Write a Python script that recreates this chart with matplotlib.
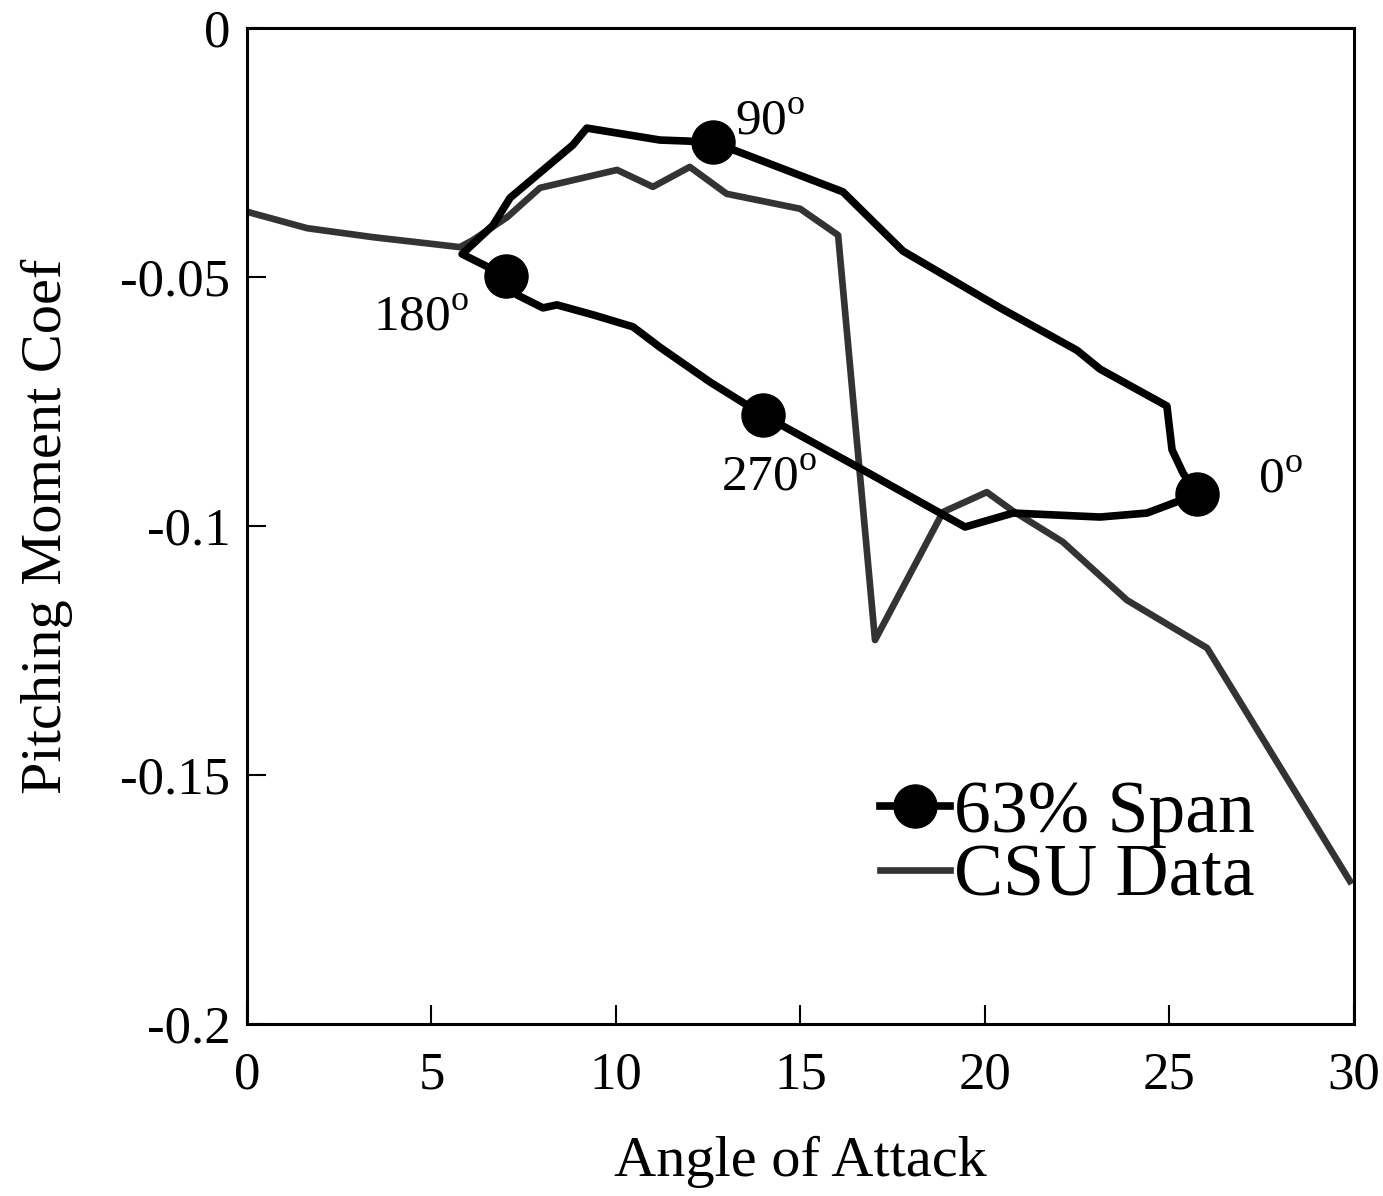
import matplotlib
matplotlib.use("Agg")
import matplotlib.pyplot as plt

plt.rcParams['font.family'] = ['Liberation Serif', 'DejaVu Serif']
plt.rcParams['mathtext.fontset'] = 'custom'
plt.rcParams['mathtext.rm'] = 'Liberation Serif'

# 63% span loop, in order 0 -> 90 -> 180 -> 270 -> 0 deg
span_alpha = [25.75, 25.37, 25.07, 24.93, 23.12, 22.49, 20.41, 17.78, 16.15,
              12.63, 11.19, 9.21, 8.83, 7.13, 6.67, 5.83,
              7.02, 7.32, 8.02, 8.40, 9.38, 10.46, 11.19, 12.55,
              13.98, 16.61, 19.46, 20.76, 23.12, 24.39, 25.75]
span_cm = [-0.0936, -0.0894, -0.0847, -0.0759, -0.0685, -0.0647, -0.0562, -0.0448, -0.0329,
           -0.0229, -0.0225, -0.0201, -0.0235, -0.0341, -0.0396, -0.0454,
           -0.0498, -0.0536, -0.0562, -0.0556, -0.0576, -0.0600, -0.0641, -0.0711,
           -0.0777, -0.0884, -0.1002, -0.0974, -0.0982, -0.0974, -0.0936]
phase_idx = [0, 9, 16, 24]
phase_labels = ["0$^{\\rm o}$", "90$^{\\rm o}$", "180$^{\\rm o}$", "270$^{\\rm o}$"]

# CSU static data
csu_alpha = [0.0, 1.63, 3.41, 5.77, 6.12, 7.05, 7.94, 10.03, 11.0, 12.0, 13.0,
             14.99, 16.02, 17.02, 18.86, 20.05, 20.76, 22.11, 23.85, 26.02, 29.89]
csu_cm = [-0.0369, -0.0402, -0.0420, -0.0440, -0.0426, -0.0380, -0.0321, -0.0285,
          -0.0319, -0.0279, -0.0333, -0.0363, -0.0416, -0.1229, -0.0972, -0.0932,
          -0.0970, -0.1032, -0.1149, -0.1245, -0.1713]

fig = plt.figure(figsize=(13.83, 11.96), dpi=100)
ax = fig.add_axes([0.1786, 0.1438, 0.8004, 0.8328])

ax.plot(csu_alpha, csu_cm, color='#333333', lw=4.8, label='CSU Data', zorder=2)
ax.plot(span_alpha, span_cm, color='black', lw=5.5, marker='o', markersize=31,
        markevery=phase_idx, label='63% Span', zorder=3)

# phase labels
ax.text(13.22, -0.0189, phase_labels[1], fontsize=37, ha='left', va='center')
ax.text(4.72, -0.0582, phase_labels[2], fontsize=37, ha='center', va='center')
ax.text(14.15, -0.0904, phase_labels[3], fontsize=37, ha='center', va='center')
ax.text(28.02, -0.0908, phase_labels[0], fontsize=37, ha='center', va='center')

ax.set_xlim(0, 30)
ax.set_ylim(-0.2, 0)
ax.set_xticks([0, 5, 10, 15, 20, 25, 30])
ax.set_yticks([0, -0.05, -0.1, -0.15, -0.2])
ax.set_yticklabels(['0', '-0.05', '-0.1', '-0.15', '-0.2'])
ax.tick_params(axis='both', direction='in', length=14, width=1.5, labelsize=38)
ax.tick_params(axis='x', pad=20)
ax.tick_params(axis='y', pad=12)
for s in ax.spines.values():
    s.set_linewidth(2.2)

ax.set_xlabel('Angle of Attack', fontsize=42, labelpad=26)
ax.set_ylabel('Pitching Moment Coef', fontsize=42, labelpad=34)

handles, labels = ax.get_legend_handles_labels()
ax.legend(handles[::-1], labels[::-1], loc='upper left', bbox_to_anchor=(0.572, 0.245),
          frameon=False, fontsize=53, handlelength=0.95, handletextpad=0.05,
          labelspacing=-0.05, borderpad=0, borderaxespad=0)

fig.savefig('out.png', dpi=100)
